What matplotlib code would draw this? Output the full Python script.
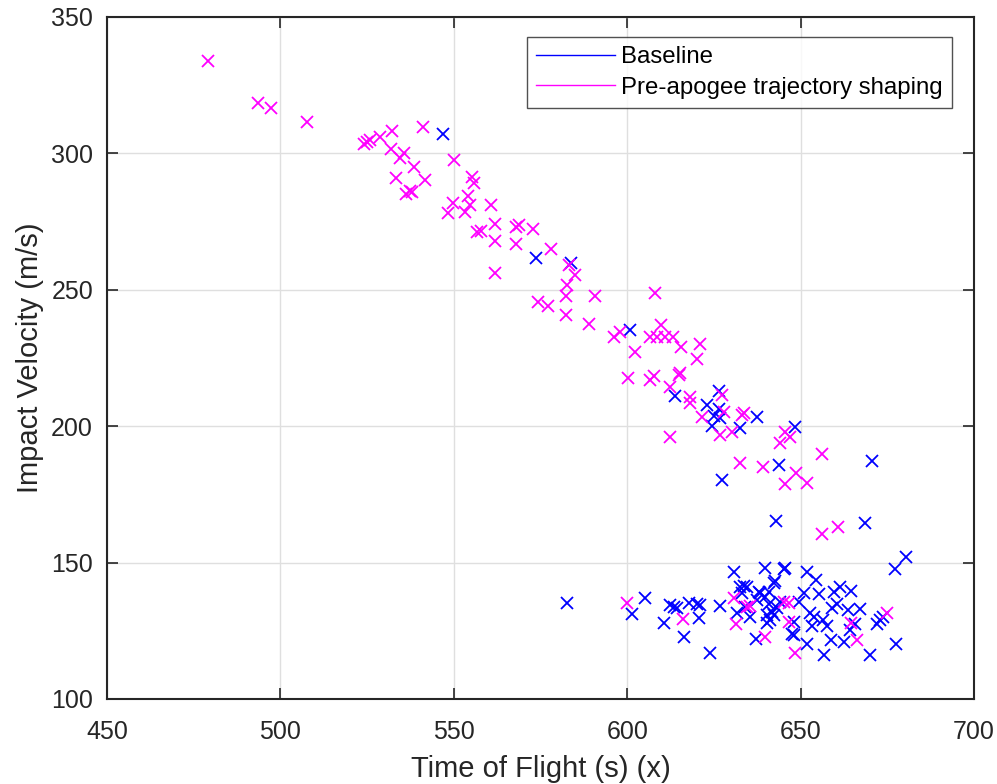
import matplotlib
matplotlib.use("Agg")
import matplotlib.pyplot as plt
from matplotlib.lines import Line2D

plt.rcParams['font.family'] = ['Liberation Sans', 'DejaVu Sans']

# Baseline: (time of flight, impact velocity)
baseline_tof = [547.0, 573.8, 583.8, 600.9, 613.9, 626.4, 623.0, 626.4, 625.0, 626.9,
                624.4, 632.4, 637.4, 648.5, 643.7, 627.3, 670.6, 642.9, 668.5, 680.4,
                677.3, 677.6, 669.9, 656.7, 651.9, 658.9, 662.4, 651.9, 654.3, 645.6,
                639.6, 642.4, 661.5, 664.4, 659.5, 655.2, 650.9, 660.5, 667.2, 663.8,
                659.1, 649.4, 652.8, 653.8, 656.6, 657.6, 653.3, 648.0, 664.2, 665.8,
                672.0, 673.0, 673.9, 582.7, 601.4, 605.2, 610.5, 612.4, 613.4, 614.3,
                616.5, 617.7, 620.1, 621.1, 620.6, 623.8, 626.9, 630.7, 631.7, 632.6,
                633.6, 634.5, 633.1, 634.1, 635.5, 637.0, 638.4, 639.8, 637.4, 640.3,
                641.3, 641.8, 642.7, 637.9, 640.8, 640.8, 642.3, 643.2, 640.3, 644.2,
                647.5, 645.3, 648.0]
baseline_vel = [307.0, 261.5, 259.7, 235.3, 211.1, 213.0, 207.8, 206.2, 203.7, 202.9,
                200.1, 199.2, 203.5, 199.6, 185.8, 180.3, 187.4, 165.3, 164.6, 152.2,
                147.5, 120.0, 116.1, 116.1, 120.2, 121.6, 121.0, 146.7, 143.6, 147.9,
                147.9, 142.6, 141.2, 139.7, 139.4, 138.5, 138.8, 134.8, 132.9, 132.6,
                133.2, 135.7, 131.4, 130.2, 129.0, 126.6, 126.6, 123.4, 125.2, 127.6,
                127.6, 128.8, 130.1, 135.2, 131.0, 136.9, 127.8, 134.5, 133.9, 133.5,
                122.8, 135.3, 134.8, 134.4, 129.6, 116.8, 134.1, 146.7, 131.4, 141.2,
                141.4, 140.9, 138.8, 133.9, 130.2, 121.9, 138.8, 137.5, 136.3, 130.8,
                128.9, 132.0, 143.3, 139.4, 139.4, 135.0, 130.8, 133.2, 128.0, 135.7,
                123.8, 147.7, 128.3]

# Pre-apogee trajectory shaping
shaping_tof = [479.0, 493.5, 497.3, 507.6, 524.0, 524.9, 525.9, 528.6, 532.1, 541.1,
               531.8, 535.5, 534.5, 538.4, 533.3, 541.7, 537.4, 536.3, 537.9, 550.1,
               555.2, 555.9, 554.2, 549.7, 548.2, 553.1, 554.7, 560.7, 556.7, 557.8,
               561.9, 561.9, 561.9, 568.0, 568.9, 568.0, 572.7, 578.1, 583.1, 585.0,
               582.6, 582.4, 590.8, 574.4, 577.3, 582.4, 588.9, 608.1, 596.1, 598.0,
               602.3, 600.1, 606.7, 609.7, 608.6, 611.0, 613.2, 615.5, 620.9, 620.1,
               606.5, 607.8, 614.8, 615.3, 612.4, 618.0, 618.2, 612.2, 627.3, 621.5,
               628.0, 626.9, 630.2, 633.1, 633.8, 632.4, 639.2, 645.6, 646.8, 644.2,
               656.2, 648.8, 651.9, 645.6, 656.2, 660.8, 599.9, 616.1, 630.7, 631.5,
               635.5, 634.5, 639.8, 645.1, 646.6, 646.6, 648.3, 664.4, 666.3, 674.8]
shaping_vel = [334.0, 318.4, 316.5, 311.6, 303.3, 304.1, 304.9, 305.9, 308.3, 309.6,
               301.5, 300.0, 298.2, 294.9, 291.0, 290.2, 286.3, 285.1, 286.0, 297.6,
               291.2, 289.0, 284.4, 281.9, 278.3, 278.6, 281.1, 281.0, 271.3, 271.7,
               274.0, 268.0, 256.3, 273.2, 273.8, 266.8, 272.2, 265.1, 259.1, 255.4,
               251.8, 247.7, 247.7, 245.6, 244.1, 240.8, 237.5, 248.9, 232.6, 234.6,
               227.1, 217.6, 232.6, 237.1, 232.6, 232.6, 232.6, 228.9, 230.1, 224.5,
               216.9, 218.4, 218.8, 219.4, 214.5, 210.8, 208.4, 196.2, 211.4, 203.5,
               205.3, 196.8, 198.0, 204.1, 204.7, 186.6, 184.9, 198.0, 196.2, 193.9,
               189.8, 182.7, 179.3, 178.8, 160.5, 162.9, 135.1, 129.2, 136.9, 127.5,
               134.1, 133.6, 122.8, 135.7, 135.2, 128.3, 116.8, 128.0, 121.6, 131.6]

series_labels = ["Baseline", "Pre-apogee trajectory shaping"]
xticks = [450, 500, 550, 600, 650, 700]
yticks = [100, 150, 200, 250, 300, 350]

dark = '#262626'
fig = plt.figure(figsize=(9.97, 7.84), dpi=100)
ax = fig.add_axes([107/997, 85/784, 867/997, 682/784])

ax.plot(baseline_tof, baseline_vel, linestyle='none', marker='x', color='#0000ff',
        markersize=8.5, markeredgewidth=1.3)
ax.plot(shaping_tof, shaping_vel, linestyle='none', marker='x', color='#ff00ff',
        markersize=8.5, markeredgewidth=1.3)

ax.set_xlim(450, 700)
ax.set_ylim(100, 350)
ax.set_xticks(xticks)
ax.set_yticks(yticks)
ax.grid(True, color='#dfdfdf', linewidth=1.0)
ax.set_axisbelow(True)
ax.tick_params(direction='in', length=8, width=1.2, colors=dark, labelsize=18,
               top=True, right=True)
ax.tick_params(axis='x', pad=15)
ax.tick_params(axis='y', pad=10)
for s in ax.spines.values():
    s.set_color(dark)
    s.set_linewidth(1.5)

ax.set_xlabel("Time of Flight (s) (x)", fontsize=21, color=dark, labelpad=8)
ax.set_ylabel("Impact Velocity (m/s)", fontsize=21, color=dark, labelpad=5)

handles = [Line2D([0], [0], color='#0000ff', linewidth=1.0),
           Line2D([0], [0], color='#ff00ff', linewidth=1.0)]
leg = fig.legend(handles, series_labels, loc='upper right',
                 bbox_to_anchor=(952/997, 1 - 37/784), bbox_transform=fig.transFigure,
                 fontsize=17.3, frameon=True, fancybox=False, handlelength=3.3,
                 handletextpad=0.25, borderpad=0.38, labelspacing=0.36, borderaxespad=0.0)
leg.get_frame().set_edgecolor(dark)
leg.get_frame().set_linewidth(1.0)

fig.savefig("out.png", dpi=100)
